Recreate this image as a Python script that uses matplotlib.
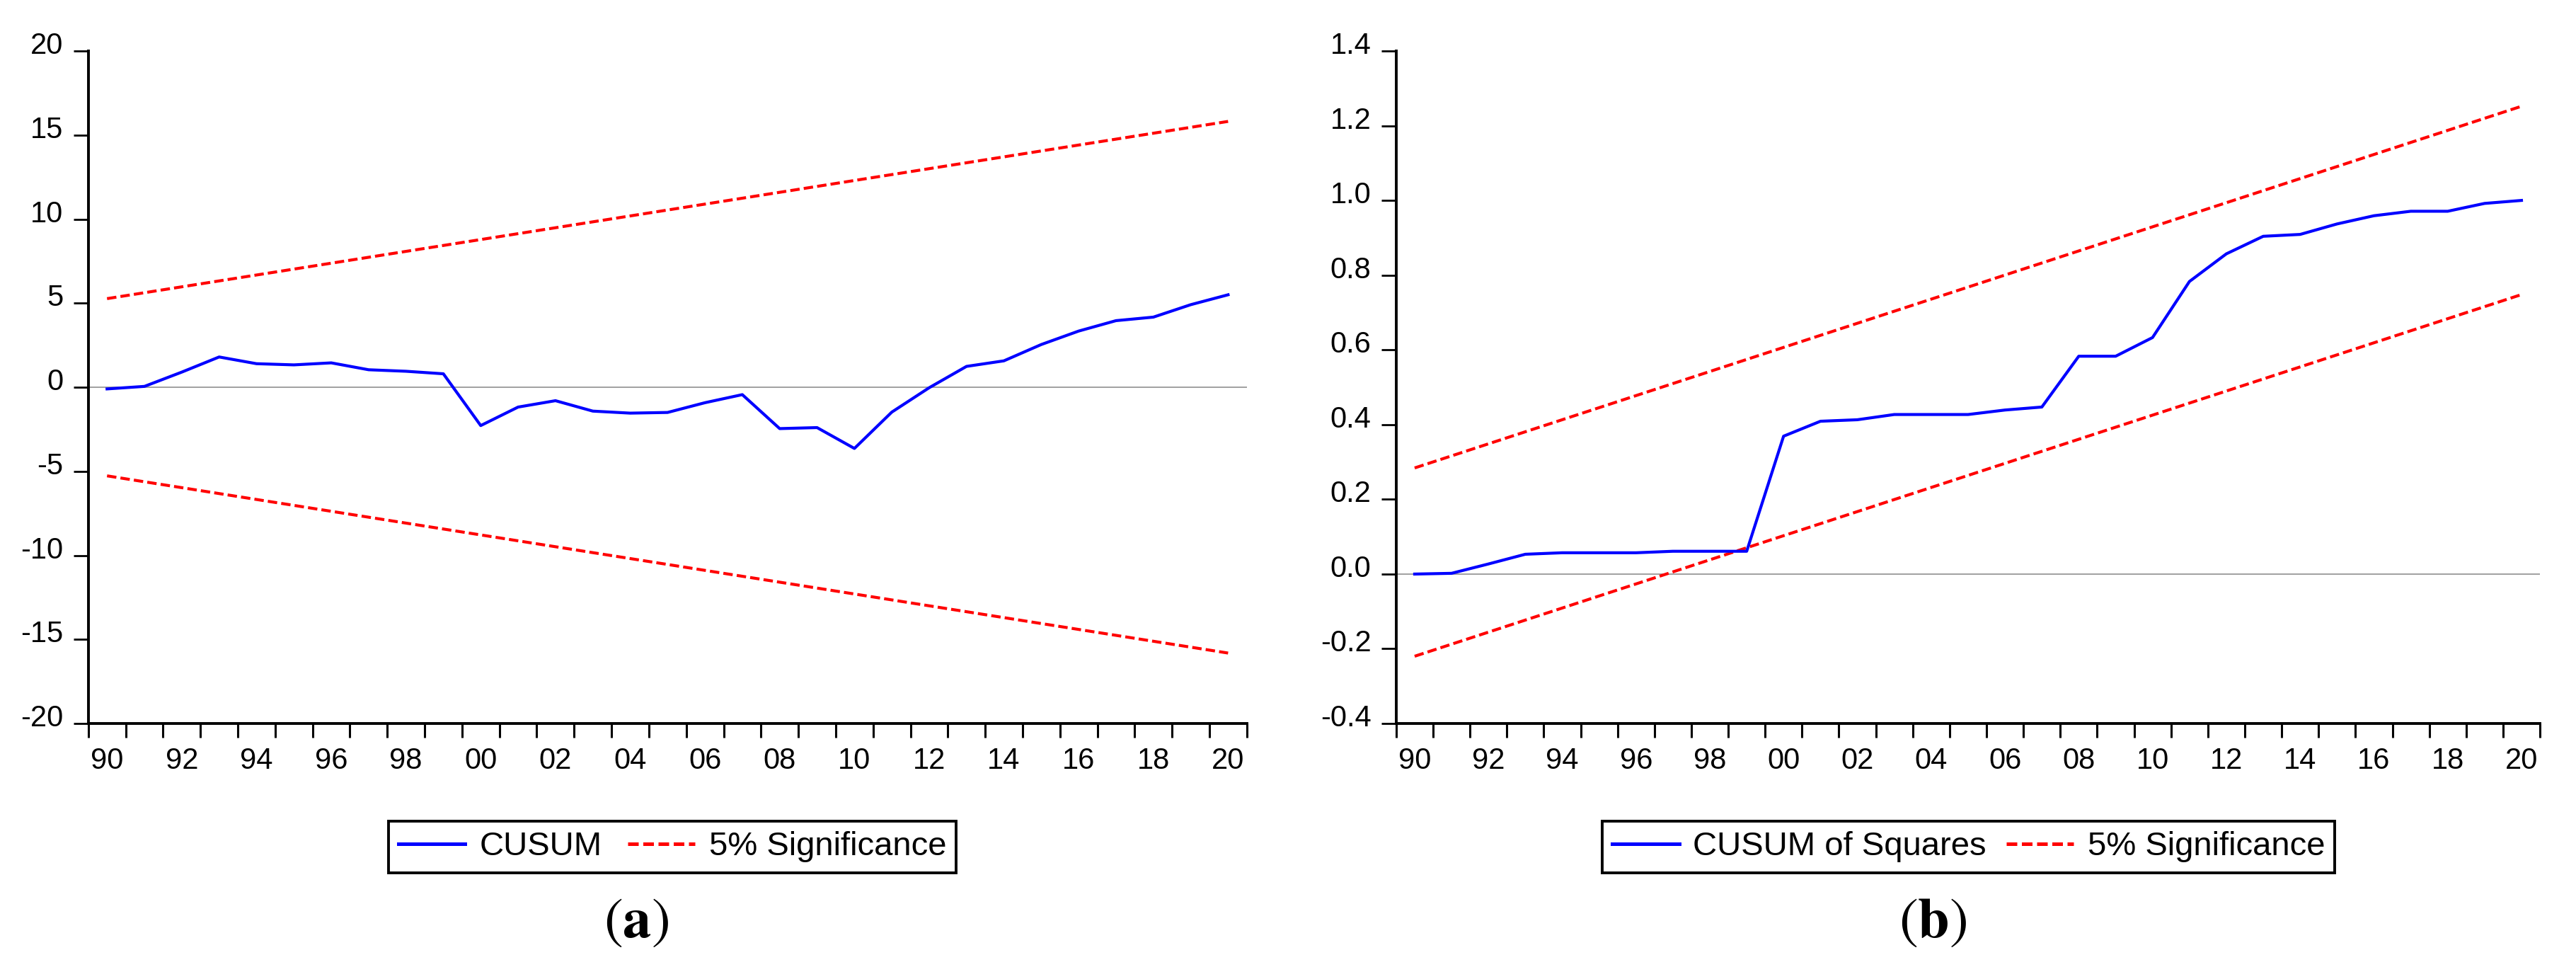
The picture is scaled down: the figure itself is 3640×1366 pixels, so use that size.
import matplotlib
matplotlib.use("Agg")
import matplotlib.pyplot as plt
import matplotlib.transforms as mtransforms
from matplotlib.lines import Line2D

years = list(range(1990, 2021))
cusum = [-0.1, 0.05, 0.9, 1.8, 1.4, 1.33, 1.45, 1.04, 0.95, 0.8,
         -2.28, -1.18, -0.8, -1.42, -1.54, -1.5, -0.92, -0.44, -2.46, -2.4,
         -3.64, -1.48, -0.03, 1.24, 1.57, 2.54, 3.34, 3.96, 4.17, 4.91, 5.5]
cusum_sq = [0.0, 0.002, 0.027, 0.053, 0.057, 0.057, 0.057, 0.061, 0.061, 0.061,
            0.369, 0.409, 0.413, 0.427, 0.427, 0.427, 0.439, 0.447, 0.583, 0.583,
            0.633, 0.783, 0.857, 0.904, 0.909, 0.937, 0.959, 0.971, 0.971, 0.992, 1.0]

bound_years = [1990, 2020]
cusum_upper = [5.27, 15.81]
cusum_lower = [-5.27, -15.81]
sq_upper = [0.284, 1.252]
sq_lower = [-0.220, 0.748]

xtick_years = list(range(1990, 2021, 2))
xtick_labels = [f"{y % 100:02d}" for y in xtick_years]
yticks_a = [-20, -15, -10, -5, 0, 5, 10, 15, 20]
ylabels_a = ["-20", "-15", "-10", "-5", "0", "5", "10", "15", "20"]
yticks_b = [-0.4, -0.2, 0.0, 0.2, 0.4, 0.6, 0.8, 1.0, 1.2, 1.4]
ylabels_b = [f"{v:.1f}" for v in yticks_b]

FONT = ['Liberation Sans', 'DejaVu Sans']
plt.rcParams['font.family'] = FONT
plt.rcParams['mathtext.fontset'] = 'stix'

fig = plt.figure(figsize=(36.4, 13.66), dpi=100)
ax_a = fig.add_axes([0.0343, 0.2518, 0.4497, 0.6955])
ax_b = fig.add_axes([0.5420, 0.2518, 0.4440, 0.6955])

BLUE = '#0000ff'
RED = '#ff0000'
LW = 3.0
DASH = (3.2, 1.4)


def style(ax, yticks, ylabels, ylim):
    ax.set_xlim(1989.5, 2020.5)
    ax.set_ylim(*ylim)
    for s in ['top', 'right']:
        ax.spines[s].set_visible(False)
    for s in ['left', 'bottom']:
        ax.spines[s].set_linewidth(2.8)
        ax.spines[s].set_color('black')
        ax.spines[s].set_capstyle('projecting')
    ax.set_xticks(xtick_years)
    ax.set_xticklabels(xtick_labels)
    ax.set_xticks([y + 0.5 for y in range(1989, 2021)], minor=True)
    ax.tick_params(axis='x', which='major', length=0, pad=24, labelsize=30)
    ax.tick_params(axis='x', which='minor', length=14.5, width=2.2, direction='out')
    ax.set_yticks(yticks)
    ax.set_yticklabels(ylabels)
    ax.tick_params(axis='y', which='major', length=15, width=2.0, direction='out',
                   pad=10.5, labelsize=30)
    off = mtransforms.ScaledTranslation(0, 0.115, fig.dpi_scale_trans)
    for lab in ax.get_yticklabels():
        lab.set_transform(lab.get_transform() + off)
    ax.axhline(0, color='#909090', lw=1.2, zorder=1)


style(ax_a, yticks_a, ylabels_a, (-20, 20))
style(ax_b, yticks_b, ylabels_b, (-0.4, 1.4))

ax_a.plot(years, cusum, color=BLUE, lw=LW, zorder=3)
ax_a.plot(bound_years, cusum_upper, color=RED, lw=LW, dashes=DASH, zorder=2)
ax_a.plot(bound_years, cusum_lower, color=RED, lw=LW, dashes=DASH, zorder=2)

ax_b.plot(years, cusum_sq, color=BLUE, lw=LW, zorder=3)
ax_b.plot(bound_years, sq_upper, color=RED, lw=LW, dashes=DASH, zorder=2)
ax_b.plot(bound_years, sq_lower, color=RED, lw=LW, dashes=DASH, zorder=2)


def add_legend(ax, label, cx, colsp):
    h = [Line2D([], [], color=BLUE, lw=3.6),
         Line2D([], [], color=RED, lw=3.6, dashes=(3.0, 1.3))]
    leg = ax.legend(h, [label, '5% Significance'], loc='center',
                    bbox_to_anchor=(cx, 0.1241), bbox_transform=fig.transFigure,
                    ncol=2, fontsize=34, frameon=True, fancybox=False,
                    handlelength=2.0, handletextpad=0.42, columnspacing=colsp,
                    borderpad=0.3, borderaxespad=0)
    fr = leg.get_frame()
    fr.set_edgecolor('black')
    fr.set_linewidth(2.8)
    fr.set_facecolor('white')
    fr.set_alpha(1)


add_legend(ax_a, 'CUSUM', 0.261, 0.78)
add_legend(ax_b, 'CUSUM of Squares', 0.7642, 0.6)

fig.text(0.247, 0.046, r'$(\mathbf{a})$', fontsize=58, ha='center', va='center')
fig.text(0.7504, 0.046, r'$(\mathbf{b})$', fontsize=58, ha='center', va='center')

fig.savefig('out.png', dpi=100, facecolor='white')
